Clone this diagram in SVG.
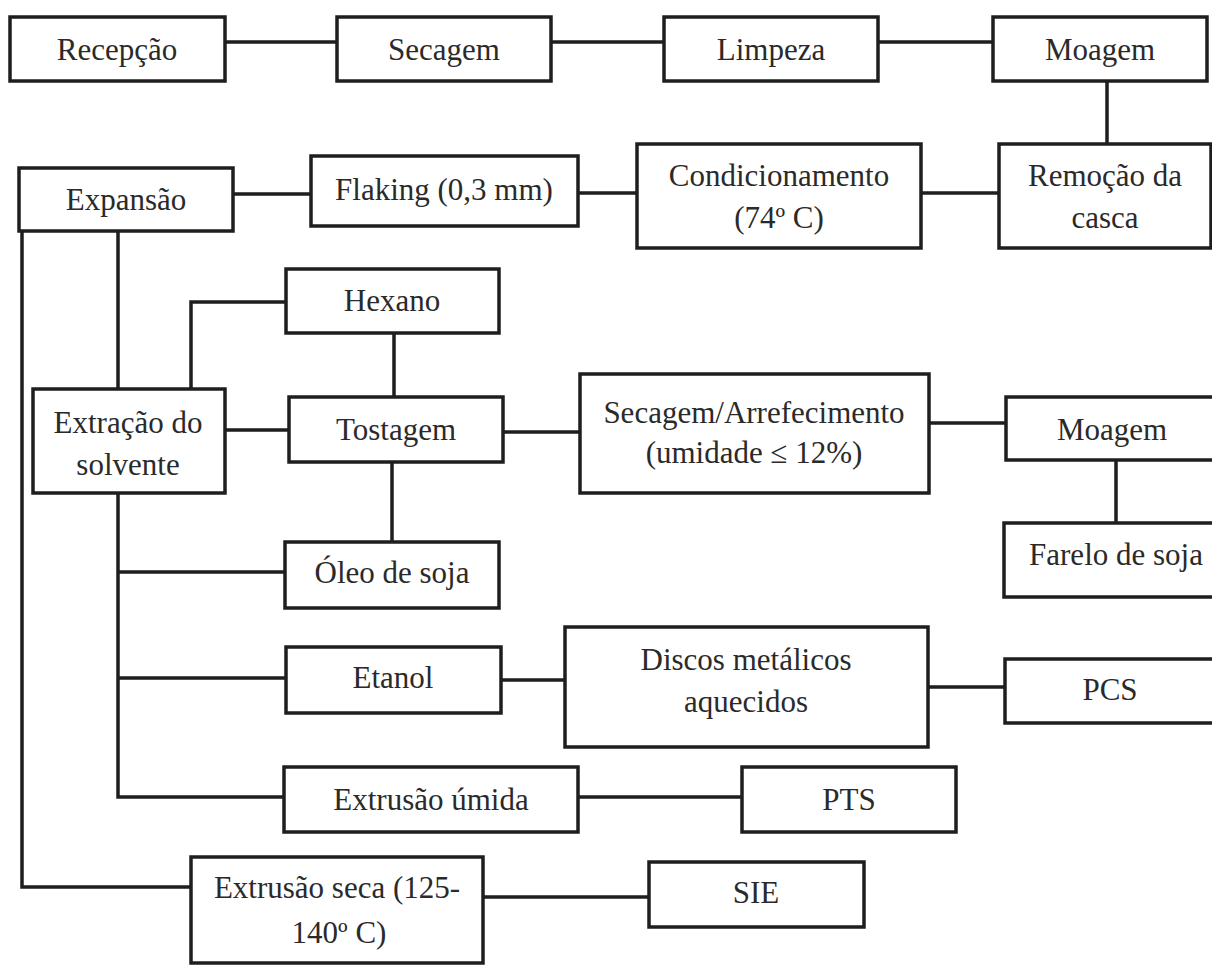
<svg xmlns="http://www.w3.org/2000/svg" width="1212" height="965" viewBox="0 0 1212 965">
<style>
.b{fill:#fff;stroke:#1e1e1e;stroke-width:3.5}
.c{fill:none;stroke:#1e1e1e;stroke-width:3.5}
text{font-family:"Liberation Serif","Times New Roman",serif;font-size:31px;fill:#2a2a2a;text-anchor:middle}
</style>
<rect width="1212" height="965" fill="#fff"/>
<g id="connectors">
<path class="c" d="M225 42H337M551 42H664M878 42H993M1107 81V144"/>
<path class="c" d="M233 194H311M578 193H637M921 193H999"/>
<path class="c" d="M118 231V389M118 493V797H284M118 572H285M118 678H286"/>
<path class="c" d="M22 231V887H191"/>
<path class="c" d="M191 389V302H286M394 333V397M225 430H289M392 462V542M503 432H580"/>
<path class="c" d="M929 423H1006M1116 460V523M501 680H565M928 687H1005M578 797H742M483 897H649"/>
</g>
<g id="recepcao"><rect class="b" x="10" y="17" width="215" height="64"/><text x="117" y="60">Recepção</text></g>
<g id="secagem"><rect class="b" x="337" y="17" width="214" height="64"/><text x="444" y="60">Secagem</text></g>
<g id="limpeza"><rect class="b" x="664" y="17" width="214" height="64"/><text x="771" y="60">Limpeza</text></g>
<g id="moagem1"><rect class="b" x="993" y="17" width="214" height="64"/><text x="1100" y="60">Moagem</text></g>
<g id="remocao"><rect class="b" x="999" y="144" width="212" height="104"/><text x="1105" y="186">Remoção da</text><text x="1105" y="228">casca</text></g>
<g id="condicionamento"><rect class="b" x="637" y="144" width="284" height="104"/><text x="779" y="186">Condicionamento</text><text x="779" y="228">(74º C)</text></g>
<g id="flaking"><rect class="b" x="311" y="156" width="267" height="70"/><text x="444" y="200">Flaking (0,3 mm)</text></g>
<g id="expansao"><rect class="b" x="19" y="168" width="214" height="63"/><text x="126" y="210">Expansão</text></g>
<g id="hexano"><rect class="b" x="286" y="269" width="213" height="64"/><text x="392" y="311">Hexano</text></g>
<g id="extracao"><rect class="b" x="33" y="389" width="192" height="104"/><text x="128" y="433">Extração do</text><text x="128" y="475">solvente</text></g>
<g id="tostagem"><rect class="b" x="289" y="397" width="214" height="65"/><text x="396" y="440">Tostagem</text></g>
<g id="secagem_arref"><rect class="b" x="580" y="374" width="349" height="119"/><text x="754" y="423">Secagem/Arrefecimento</text><text x="754" y="463">(umidade ≤ 12%)</text></g>
<g id="moagem2"><rect class="b" x="1006" y="397" width="214" height="63"/><text x="1112" y="440">Moagem</text></g>
<g id="farelo"><rect class="b" x="1004" y="523" width="216" height="74"/><text x="1116" y="565">Farelo de soja</text></g>
<g id="oleo"><rect class="b" x="285" y="542" width="214" height="66"/><text x="392" y="583">Óleo de soja</text></g>
<g id="etanol"><rect class="b" x="286" y="647" width="215" height="66"/><text x="393" y="688">Etanol</text></g>
<g id="discos"><rect class="b" x="565" y="627" width="363" height="120"/><text x="746" y="670">Discos metálicos</text><text x="746" y="712">aquecidos</text></g>
<g id="pcs"><rect class="b" x="1005" y="659" width="215" height="64"/><text x="1110" y="700">PCS</text></g>
<g id="extrusao_umida"><rect class="b" x="284" y="767" width="294" height="65"/><text x="431" y="810">Extrusão úmida</text></g>
<g id="pts"><rect class="b" x="742" y="767" width="214" height="65"/><text x="849" y="810">PTS</text></g>
<g id="extrusao_seca"><rect class="b" x="191" y="857" width="292" height="106"/><text x="337" y="898">Extrusão seca (125-</text><text x="339" y="943">140º C)</text></g>
<g id="sie"><rect class="b" x="649" y="862" width="215" height="65"/><text x="756" y="903">SIE</text></g>
</svg>
